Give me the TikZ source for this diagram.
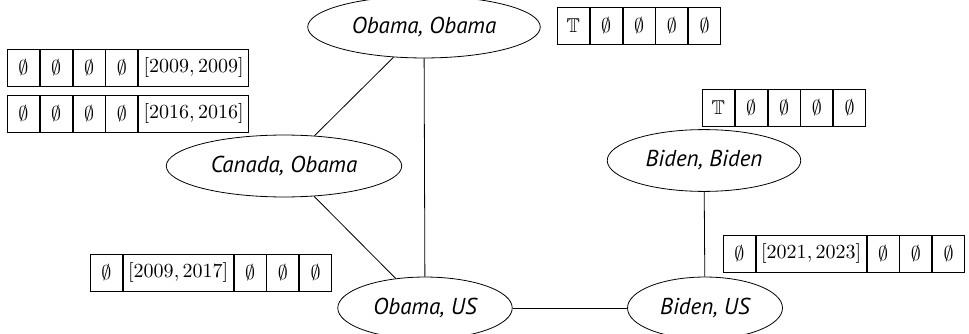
\documentclass[tikz,border=0pt]{standalone}
\usepackage{amssymb}
\usepackage{fontspec}
\newfontfamily\pairfont{PT Sans}
\usetikzlibrary{positioning,shapes.geometric}

\begin{document}
\begin{tikzpicture}[
        pairn/.style={draw, ellipse, inner xsep=5pt, inner ysep=6pt, minimum height=28pt, font=\pairfont\itshape\fontsize{11.5}{14}\selectfont},
        celln/.style={draw, minimum width=16pt, minimum height=18.5pt, inner sep=0pt},
        widen/.style={celln, minimum width=55pt},
        node distance=0pt,
    ]
    \useasboundingbox (0,0) rectangle (484.5pt,166.5pt);
    \node[pairn](obob) at (212pt,153pt){Obama, Obama};
    \node[pairn](caob) at (142pt,83.5pt){Canada, Obama};
    \node[pairn](bibi) at (352pt,86.25pt){Biden, Biden};
    \node[pairn](obus) at (212.5pt,12.5pt){Obama, US};
    \node[pairn](bius) at (352.5pt,12.5pt){Biden, US};

    \draw (obob) -- (caob);
    \draw (obob) -- (obus);
    \draw (caob) -- (obus);
    \draw (obus) -- (bius);
    \draw (bibi) -- (bius);

    % tuple of (Obama, Obama)
    \node[celln, anchor=north west](obob1) at (278.5pt,163pt){$\mathbb{T}$};
    \node[celln, right=of obob1](obob2){$\emptyset$};
    \node[celln, right=of obob2](obob3){$\emptyset$};
    \node[celln, right=of obob3](obob4){$\emptyset$};
    \node[celln, right=of obob4](obob5){$\emptyset$};
    % tuples of (Canada, Obama)
    \node[celln, anchor=north west](caoba1) at (3.5pt,142pt){$\emptyset$};
    \node[celln, right=of caoba1](caoba2){$\emptyset$};
    \node[celln, right=of caoba2](caoba3){$\emptyset$};
    \node[celln, right=of caoba3](caoba4){$\emptyset$};
    \node[widen, right=of caoba4](caoba5){$[2009, 2009]$};
    \node[celln, anchor=north west](caobb1) at (3.5pt,119pt){$\emptyset$};
    \node[celln, right=of caobb1](caobb2){$\emptyset$};
    \node[celln, right=of caobb2](caobb3){$\emptyset$};
    \node[celln, right=of caobb3](caobb4){$\emptyset$};
    \node[widen, right=of caobb4](caobb5){$[2016, 2016]$};
    % tuple of (Biden, Biden)
    \node[celln, anchor=north west](bibi1) at (351pt,122pt){$\mathbb{T}$};
    \node[celln, right=of bibi1](bibi2){$\emptyset$};
    \node[celln, right=of bibi2](bibi3){$\emptyset$};
    \node[celln, right=of bibi3](bibi4){$\emptyset$};
    \node[celln, right=of bibi4](bibi5){$\emptyset$};
    % tuple of (Obama, US)
    \node[celln, anchor=north west](obus1) at (45pt,39.5pt){$\emptyset$};
    \node[widen, right=of obus1](obus2){$[2009, 2017]$};
    \node[celln, right=of obus2](obus3){$\emptyset$};
    \node[celln, right=of obus3](obus4){$\emptyset$};
    \node[celln, right=of obus4](obus5){$\emptyset$};
    % tuple of (Biden, US)
    \node[celln, anchor=north west](bius1) at (361.5pt,49pt){$\emptyset$};
    \node[widen, right=of bius1](bius2){$[2021, 2023]$};
    \node[celln, right=of bius2](bius3){$\emptyset$};
    \node[celln, right=of bius3](bius4){$\emptyset$};
    \node[celln, right=of bius4](bius5){$\emptyset$};
\end{tikzpicture}
\end{document}
